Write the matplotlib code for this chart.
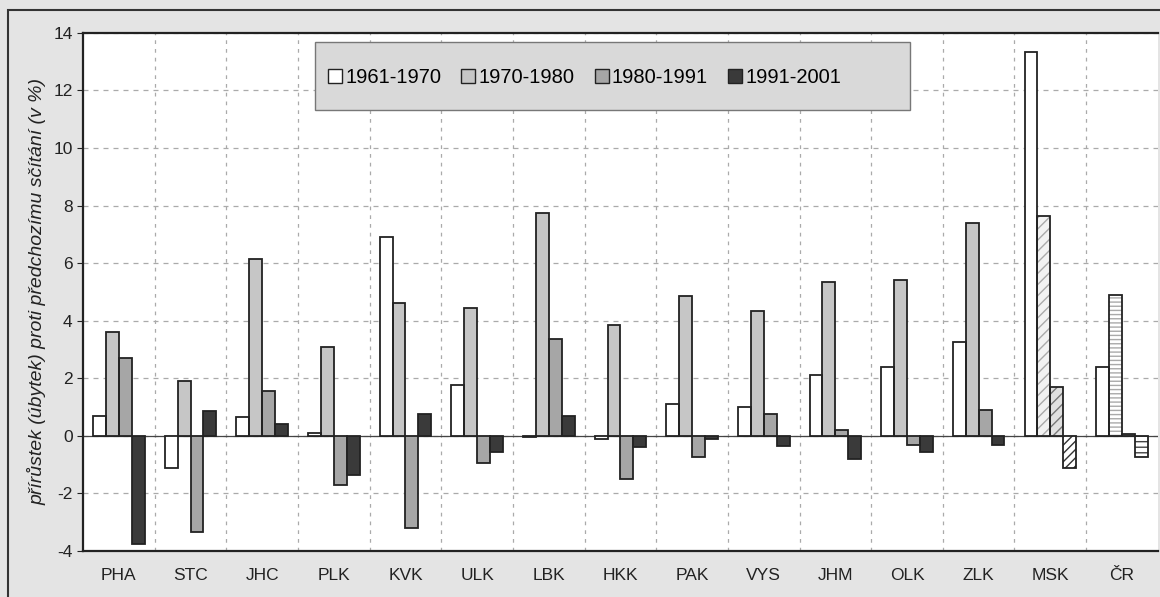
import numpy as np
import matplotlib.pyplot as plt
from matplotlib.patches import Rectangle

plt.rcParams['font.family'] = ['Liberation Sans', 'DejaVu Sans']
plt.rcParams['axes.unicode_minus'] = False
plt.rcParams['hatch.linewidth'] = 1.0

regions = ["PHA", "STC", "JHC", "PLK", "KVK", "ULK", "LBK", "HKK",
           "PAK", "VYS", "JHM", "OLK", "ZLK", "MSK", "ČR"]
periods = ["1961-1970", "1970-1980", "1980-1991", "1991-2001"]

p1961_1970 = [0.7, -1.1, 0.65, 0.1, 6.9, 1.75, -0.05, -0.1, 1.1, 1.0, 2.1, 2.4, 3.25, 13.35, 2.4]
p1970_1980 = [3.6, 1.9, 6.15, 3.1, 4.6, 4.45, 7.75, 3.85, 4.85, 4.35, 5.35, 5.4, 7.4, 7.65, 4.9]
p1980_1991 = [2.7, -3.35, 1.55, -1.7, -3.2, -0.95, 3.35, -1.5, -0.75, 0.75, 0.2, -0.3, 0.9, 1.7, 0.05]
p1991_2001 = [-3.75, 0.85, 0.4, -1.35, 0.75, -0.55, 0.7, -0.4, -0.1, -0.35, -0.8, -0.55, -0.3, -1.1, -0.75]

series = [p1961_1970, p1970_1980, p1980_1991, p1991_2001]
colors = ["#ffffff", "#c6c6c6", "#a6a6a6", "#3a3a3a"]

# MSK and ČR bars are hatched in the original: (region index, series index) -> (hatch, hatch colour, fill)
special = {
    (13, 1): ("///", "#aaaaaa", "#f2f2f2"),
    (13, 2): ("///", "#777777", "#e0e0e0"),
    (13, 3): ("////", "#333333", "#ffffff"),
    (14, 1): ("----", "#aaaaaa", "#ffffff"),
    (14, 3): ("---", "#444444", "#ffffff"),
}

fig = plt.figure(figsize=(11.6, 5.97), dpi=100, facecolor="#e4e4e4")
fig.patches.append(Rectangle((0.007, -0.01), 1.0, 0.993, transform=fig.transFigure,
                             fill=False, edgecolor="#333333", linewidth=1.5))
ax = fig.add_axes([0.0716, 0.077, 0.9265, 0.868])
ax.set_facecolor("white")

x = np.arange(len(regions))
w = 0.18
for i, vals in enumerate(series):
    pos = x + (i - 1.5) * w
    fills = ax.bar(pos, vals, w, color=colors[i], linewidth=0, zorder=3)
    for (r, s), (hatch, hcol, fc) in special.items():
        if s == i:
            fills[r].set_facecolor(fc)
            fills[r].set_edgecolor(hcol)
            fills[r].set_hatch(hatch)
    ax.bar(pos, vals, w, fill=False, edgecolor="#222222", linewidth=1.3, zorder=4)
    # legend proxy
    ax.bar([0], [0], 0, color=colors[i], edgecolor="#222222", linewidth=1.0, label=periods[i])

ax.axhline(0, color="#444444", linewidth=0.9, zorder=2)
ax.set_xlim(-0.5, len(regions) - 0.5)
ax.set_ylim(-4, 14)
ax.set_yticks(np.arange(-4, 15, 2))
ax.set_xticks(x)
ax.set_xticklabels(regions)
ax.set_xticks(np.arange(0.5, len(regions) - 0.5, 1), minor=True)
ax.tick_params(axis="x", which="both", length=0, pad=12, labelsize=12.5, colors="#222222")
ax.tick_params(axis="y", length=4, labelsize=12.5, colors="#222222")
ax.grid(True, axis="y", which="major", linestyle=(0, (4, 4)), color="#aaaaaa", linewidth=0.9, zorder=0)
ax.grid(True, axis="x", which="minor", linestyle=(0, (3, 4)), color="#aaaaaa", linewidth=0.9, zorder=0)
for s in ax.spines.values():
    s.set_color("#222222")
    s.set_linewidth(1.6)
ax.spines["right"].set_visible(False)

ax.set_ylabel("přírůstek (úbytek) proti předchozímu sčítání (v %)", style="italic",
              fontsize=14, color="#222222", labelpad=5)

# legend box is wider than its entries in the original
ax.add_patch(Rectangle((0.216, 0.851), 0.553, 0.132, transform=ax.transAxes,
                       facecolor="#d9d9d9", edgecolor="#777777", linewidth=1.0, zorder=5))
leg = ax.legend(loc="center left", bbox_to_anchor=(0.228, 0.913), ncol=4, frameon=False,
                fontsize=14.5, handlelength=0.7, handleheight=0.7, handletextpad=0.15,
                columnspacing=1.0, borderpad=0, borderaxespad=0)
leg.set_zorder(6)

fig.savefig("out.png", dpi=100, facecolor=fig.get_facecolor())
